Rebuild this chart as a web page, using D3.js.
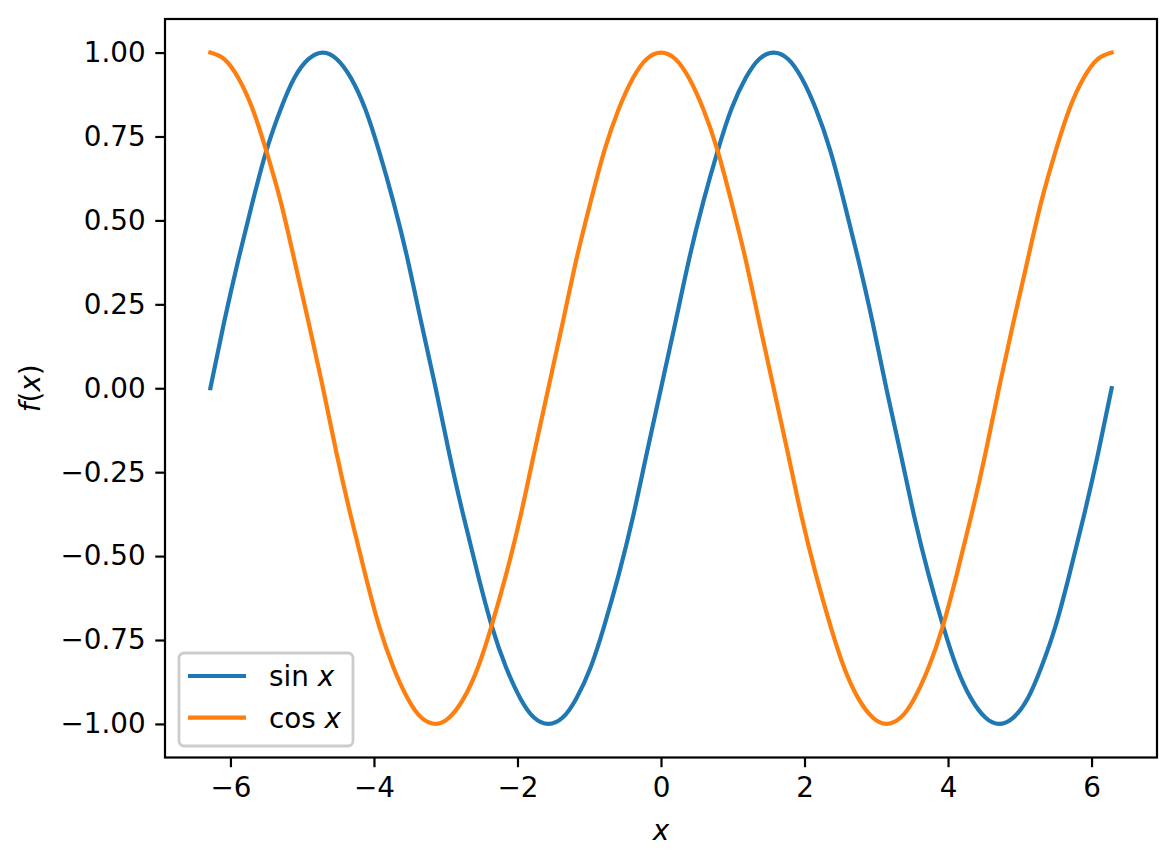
<!DOCTYPE html>
<html>
<head>
<meta charset="utf-8">
<script src="https://cdn.jsdelivr.net/npm/d3@7"></script>
<style>
  body { margin: 0; background: #fff; }
  text { font-family: "DejaVu Sans", sans-serif; }
</style>
</head>
<body>
<svg id="chart"></svg>
<script>
var width = 1176,
    height = 865;

var xVals = [-6.28, -6.09, -5.89, -5.69, -5.50, -5.30, -5.11, -4.91, -4.71, -4.52, -4.32,
    -4.12, -3.93, -3.73, -3.53, -3.34, -3.14, -2.95, -2.75, -2.55, -2.36, -2.16, -1.96,
    -1.77, -1.57, -1.37, -1.18, -0.98, -0.79, -0.59, -0.39, -0.20, 0, 0.20, 0.39, 0.59,
    0.79, 0.98, 1.18, 1.37, 1.57, 1.77, 1.96, 2.16, 2.36, 2.55, 2.75, 2.95, 3.14, 3.34,
    3.53, 3.73, 3.93, 4.12, 4.32, 4.52, 4.71, 4.91, 5.11, 5.30, 5.50, 5.69, 5.89, 6.09, 6.28];
var sinVals = [0, 0.195, 0.383, 0.556, 0.707, 0.831, 0.924, 0.981, 1, 0.981, 0.924, 0.831,
    0.707, 0.556, 0.383, 0.195, 0, -0.195, -0.383, -0.556, -0.707, -0.831, -0.924, -0.981,
    -1, -0.981, -0.924, -0.831, -0.707, -0.556, -0.383, -0.195,
    0, 0.195, 0.383, 0.556, 0.707, 0.831, 0.924, 0.981, 1, 0.981, 0.924, 0.831,
    0.707, 0.556, 0.383, 0.195, 0, -0.195, -0.383, -0.556, -0.707, -0.831, -0.924, -0.981,
    -1, -0.981, -0.924, -0.831, -0.707, -0.556, -0.383, -0.195, 0];
var cosVals = [1, 0.981, 0.924, 0.831, 0.707, 0.556, 0.383, 0.195, 0, -0.195, -0.383, -0.556,
    -0.707, -0.831, -0.924, -0.981, -1, -0.981, -0.924, -0.831, -0.707, -0.556, -0.383,
    -0.195, 0, 0.195, 0.383, 0.556, 0.707, 0.831, 0.924, 0.981,
    1, 0.981, 0.924, 0.831, 0.707, 0.556, 0.383, 0.195, 0, -0.195, -0.383, -0.556,
    -0.707, -0.831, -0.924, -0.981, -1, -0.981, -0.924, -0.831, -0.707, -0.556, -0.383,
    -0.195, 0, 0.195, 0.383, 0.556, 0.707, 0.831, 0.924, 0.981, 1];
var seriesNames = ["sin", "cos"];
var xTicks = [-6, -4, -2, 0, 2, 4, 6];
var yTicks = [-1.00, -0.75, -0.50, -0.25, 0.00, 0.25, 0.50, 0.75, 1.00];

var colors = ["#1f77b4", "#ff7f0e"];
var fontSize = 27.8;

var margin = {left: 165, right: 19, top: 19, bottom: 107.5};
var innerW = width - margin.left - margin.right,
    innerH = height - margin.top - margin.bottom;

var svg = d3.select("#chart")
    .attr("width", width)
    .attr("height", height);

var x = d3.scaleLinear().domain([-6.912, 6.912]).range([0, innerW]);
var y = d3.scaleLinear().domain([-1.1, 1.1]).range([innerH, 0]);

var g = svg.append("g")
    .attr("transform", "translate(" + margin.left + "," + margin.top + ")");

var fmtX = function (d) { return d3.format("d")(d).replace("-", "\u2212"); };
var fmtY = function (d) { return d3.format(".2f")(d).replace("-", "\u2212"); };

var xAxis = g.append("g")
    .attr("transform", "translate(0," + innerH + ")")
    .call(d3.axisBottom(x).tickValues(xTicks).tickFormat(fmtX).tickSize(9.7).tickPadding(9.7));
var yAxis = g.append("g")
    .call(d3.axisLeft(y).tickValues(yTicks).tickFormat(fmtY).tickSize(9.7).tickPadding(9.7));

[xAxis, yAxis].forEach(function (a) {
    a.select(".domain").remove();
    a.selectAll(".tick line").attr("stroke", "#000").attr("stroke-width", 2.2);
    a.selectAll(".tick text")
        .attr("fill", "#000")
        .style("font-size", fontSize + "px")
        .style("font-family", "DejaVu Sans");
});

// lines
var series = [sinVals, cosVals];
var line = d3.line()
    .x(function (d, i) { return x(xVals[i]); })
    .y(function (d) { return y(d); })
    .curve(d3.curveNatural);

series.forEach(function (s, k) {
    g.append("path")
        .datum(s)
        .attr("d", line)
        .attr("fill", "none")
        .attr("stroke", colors[k])
        .attr("stroke-width", 4.2)
        .attr("stroke-linecap", "square");
});

// frame
g.append("rect")
    .attr("width", innerW)
    .attr("height", innerH)
    .attr("fill", "none")
    .attr("stroke", "#000")
    .attr("stroke-width", 2.2);

// axis labels
svg.append("text")
    .attr("x", margin.left + innerW / 2)
    .attr("y", 840)
    .attr("text-anchor", "middle")
    .style("font-size", fontSize + "px")
    .style("font-style", "italic")
    .text("x");

var yl = svg.append("text")
    .attr("transform", "translate(40," + (margin.top + innerH / 2) + ") rotate(-90)")
    .attr("text-anchor", "middle")
    .style("font-size", fontSize + "px");
yl.append("tspan").style("font-style", "italic").text("f");
yl.append("tspan").text("(");
yl.append("tspan").style("font-style", "italic").text("x");
yl.append("tspan").text(")");

// legend
var legend = svg.append("g").attr("transform", "translate(179,653)");
legend.append("rect")
    .attr("width", 174)
    .attr("height", 93)
    .attr("rx", 5)
    .attr("fill", "#fff")
    .attr("fill-opacity", 0.8)
    .attr("stroke", "#cccccc")
    .attr("stroke-width", 2.8);

seriesNames.forEach(function (name, k) {
    var ly = 23 + k * 41.7;
    legend.append("line")
        .attr("x1", 9).attr("x2", 67)
        .attr("y1", ly).attr("y2", ly)
        .attr("stroke", colors[k])
        .attr("stroke-width", 4.2);
    var t = legend.append("text")
        .attr("x", 90)
        .attr("y", ly + 10)
        .style("font-size", fontSize + "px");
    t.append("tspan").text(name + " ");
    t.append("tspan").style("font-style", "italic").text("x");
});
</script>
</body>
</html>
